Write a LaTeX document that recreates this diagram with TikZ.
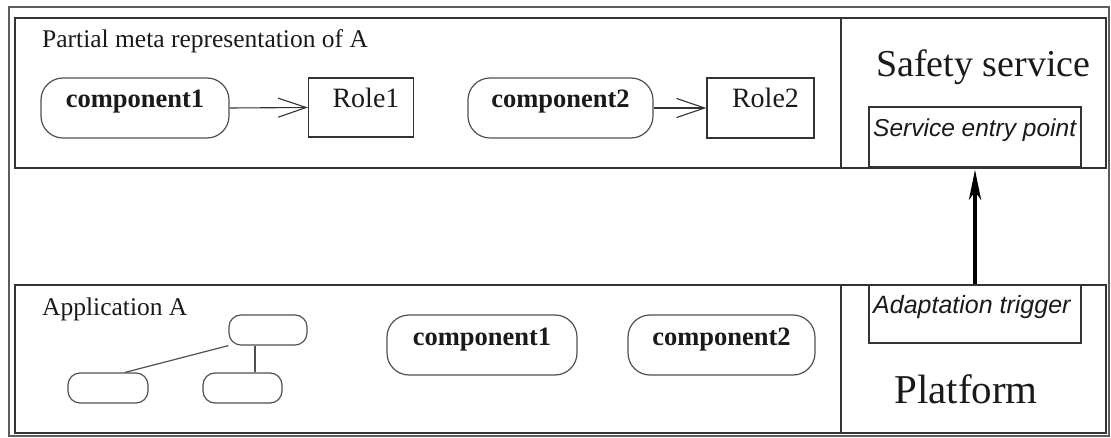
\documentclass[tikz,border=0pt]{standalone}
\usepackage{fontspec}
\setmainfont{Liberation Serif}
\newfontfamily\helv{Liberation Sans}
\usetikzlibrary{arrows.meta,calc}
\definecolor{linegray}{HTML}{333333}
\definecolor{compgray}{HTML}{505050}
\definecolor{inkblack}{HTML}{1A1A1A}
\begin{document}
\begin{tikzpicture}[x=1pt,y=-1pt,
  outerframe/.style={draw=linegray!80,line width=1.8pt},
  panel/.style={draw=linegray,line width=1.5pt},
  comp/.style={draw=compgray,line width=1.2pt,rounded corners=22pt,inner sep=0pt,
    text=inkblack,font=\fontsize{26.5}{28}\selectfont\bfseries,
    text height=19pt,text depth=19pt},
  role/.style={draw=linegray,line width=1.3pt,inner sep=0pt,text=inkblack,
    font=\fontsize{28}{30}\selectfont,text height=19pt,text depth=19pt},
  blob/.style={draw=compgray,line width=1.2pt,rounded corners=12pt,
    minimum width=79pt,minimum height=30pt,inner sep=0pt},
  slot/.style={draw=linegray,line width=1.3pt,inner sep=0pt,
    minimum width=212pt},
  caption/.style={anchor=base west,inner sep=0pt,text=inkblack,
    font=\fontsize{25.5}{27}\selectfont},
  big/.style={anchor=base west,inner sep=0pt,text=inkblack,
    font=\fontsize{38}{40}\selectfont},
  slottext/.style={anchor=base west,inner sep=0pt,text=inkblack},
  assoc/.style={draw=linegray,line width=1.1pt,
    -{Straight Barb[length=28pt,width=19pt,line width=1.1pt]}},
  link/.style={draw=compgray,line width=1.2pt}
]
\useasboundingbox (0,0) rectangle (1111,438);

% outer frame and the two layers
\draw[outerframe] (9,7) rectangle (1109,436);
\draw[panel] (15,18) rectangle (1106,168);
\draw[panel] (841,18) -- (841,168);
\draw[panel] (15,285) rectangle (1106,433);
\draw[panel] (841,285) -- (841,433);

% meta level
\node[caption] (metatitle) at (42,48) {Partial meta representation of A};
\node[comp,minimum width=188pt,minimum height=60pt] (mc1) at (135,108) {component1};
\node[role,minimum width=105pt,minimum height=59pt] (role1) at (361,107.5) {\hspace{10pt}Role1};
\node[comp,minimum width=185pt,minimum height=60pt] (mc2) at (560.5,108) {component2};
\node[role,minimum width=107pt,minimum height=60pt] (role2) at (760.5,108) {\hspace{10pt}Role2};
\draw[assoc] (mc1.east) -- (role1.west);
\draw[assoc] (mc2.east) -- (role2.west);

% safety service
\node[big] (safety) at (876,77) {Safety service};
\node[slot,minimum height=60pt] (entry) at (975,137) {};
\node[slottext,font=\helv\itshape\fontsize{24.5}{26}\selectfont] (entrytext) at (873,137) {Service entry point};

% application level
\node[caption] (apptitle) at (42,316) {Application A};
\node[blob,minimum width=78pt] (t) at (268,330) {};
\node[blob,minimum width=80pt] (bl) at (108,388) {};
\node[blob] (br) at (242.5,388) {};
\draw[link] (t.south west) -- ([xshift=17pt]bl.north);
\coordinate (tj) at ($(t.south)+(-13,0)$);
\draw[link] (tj) -- (tj |- br.north);
\node[comp,minimum width=190pt,minimum height=60pt] (ac1) at (482,345) {component1};
\node[comp,minimum width=187pt,minimum height=60pt] (ac2) at (721.5,345) {component2};

% platform
\node[slot,minimum height=58pt] (adapt) at (975,314) {};
\node[slottext,font=\helv\itshape\fontsize{25}{27}\selectfont] (adapttext) at (873,314) {Adaptation trigger};
\node[big,font=\fontsize{41}{43}\selectfont] (platform) at (894,403) {Platform};

% trigger reaching the service
\draw[line width=4pt,draw=black,shorten >=2pt,
  -{Stealth[length=30pt,width=12pt,inset=8pt]}] (adapt.north) -- (entry.south);
\end{tikzpicture}
\end{document}
